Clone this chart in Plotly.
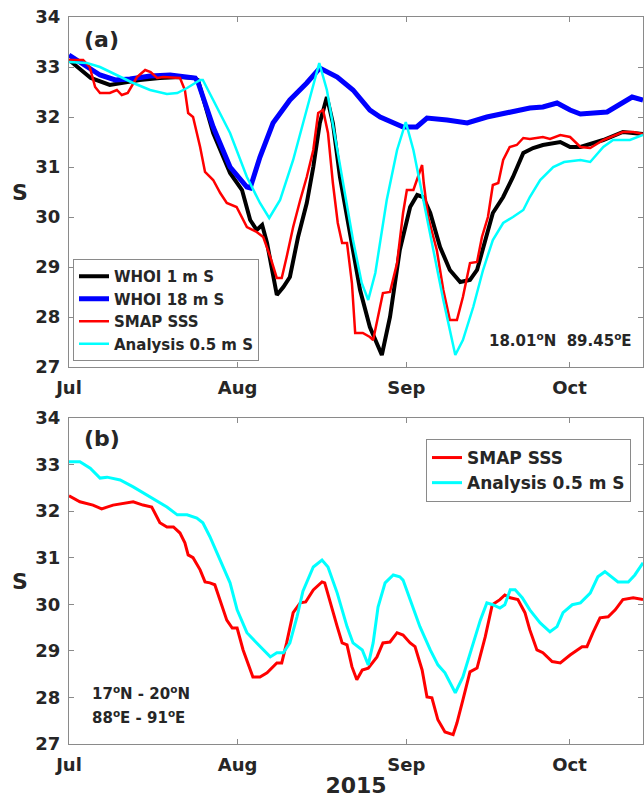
import pandas as pd
import plotly.graph_objects as go

# ---------------- data (days since 2015-07-01) ----------------
whoi1_days = [0, 2, 4, 7.5, 9.4, 13, 16.7, 20.4, 23, 23.7, 26.5, 29.6, 31.8, 33.3, 34.5, 35.5, 36.4, 38.2, 39.4, 40.6,
              42.1, 43.7, 44.9, 46.1, 47.4, 48.5, 49.8, 51.7, 53.5, 55.3, 57.5, 59, 60.8, 62.7, 64, 65.1, 66.4, 68.2,
              70, 71.9, 73.7, 75, 76.1, 77.9, 79.8, 81.6, 83.5, 85.3, 87.1, 90.3, 92.1, 94, 98.2, 101.8, 105.5]
whoi1_vals = [33.14, 32.95, 32.78, 32.64, 32.68, 32.74, 32.78, 32.8, 32.78, 32.74, 31.68, 30.88, 30.54, 29.94, 29.74,
              29.84, 29.48, 28.44, 28.6, 28.8, 29.6, 30.28, 31.0, 31.88, 32.4, 31.88, 30.8, 29.6, 28.54, 27.8, 27.24,
              28.0, 29.34, 30.2, 30.44, 30.4, 30.08, 29.4, 28.94, 28.7, 28.74, 28.94, 29.4, 30.08, 30.4, 30.8, 31.28,
              31.38, 31.44, 31.5, 31.4, 31.4, 31.54, 31.7, 31.66]

whoi18_days = [0, 2, 5.7, 8.5, 11.2, 14.9, 18.6, 23.2, 23.7, 26.5, 29.6, 32.7, 33.3, 35.1, 37.5, 40.6, 43.7, 46.1,
               49.3, 52.2, 55.3, 57.2, 61.4, 63.9, 65.8, 69.5, 73.2, 76.8, 78.6, 81, 84.7, 87.1, 89.7, 92.1, 94,
               98.9, 103.5, 105.5]
whoi18_vals = [33.24, 33.1, 32.84, 32.74, 32.76, 32.82, 32.84, 32.78, 32.7, 31.8, 31.0, 30.6, 30.58, 31.2, 31.88,
               32.34, 32.68, 32.98, 32.8, 32.54, 32.14, 32.0, 31.8, 31.8, 31.98, 31.94, 31.88, 32.0, 32.04, 32.08,
               32.18, 32.2, 32.28, 32.14, 32.06, 32.1, 32.4, 32.34]

smap_a_days = [0, 2.6, 3.8, 4.8, 5.7, 7.5, 8.8, 9.7, 10.8, 12.5, 14, 15, 16.2, 17.3, 20.4, 21.3, 21.9, 22.8, 24.1,
               25, 26.5, 27.8, 29, 30.8, 32.7, 34.5, 35.7, 37, 38.2, 39.1, 40, 41.2, 42.5, 43.7, 44.9, 45.8, 46.7,
               47.6, 48.5, 49.4, 50.2, 51.1, 52, 52.6, 54, 55.3, 55.9, 57.7, 59, 60.3, 61.4, 62.1, 63.3, 64.2, 64.9,
               65.2, 66, 67.6, 68.8, 70, 71.3, 72.4, 73.7, 75, 75.9, 77, 77.9, 78.9, 79.8, 81, 82.3, 83.5, 84.7,
               87.1, 88.4, 90.3, 92.1, 94, 95.8, 98.2, 101.8, 103.7, 105.5]
smap_a_vals = [33.14, 33.14, 33.0, 32.6, 32.48, 32.48, 32.54, 32.44, 32.48, 32.8, 32.94, 32.9, 32.78, 32.8, 32.78,
               32.54, 32.08, 32.0, 31.4, 30.9, 30.74, 30.48, 30.28, 30.2, 29.8, 29.7, 29.6, 29.2, 28.78, 28.78, 29.2,
               29.8, 30.34, 30.8, 31.34, 32.08, 32.14, 31.68, 30.68, 29.88, 29.48, 29.48, 28.68, 27.68, 27.68, 27.6,
               27.54, 28.48, 28.5, 29.08, 30.08, 30.54, 30.54, 30.8, 31.04, 30.68, 30.0, 29.34, 28.54, 27.94, 27.94,
               28.4, 29.08, 29.1, 29.6, 30.0, 30.64, 30.68, 31.14, 31.4, 31.44, 31.58, 31.56, 31.6, 31.56, 31.64,
               31.6, 31.4, 31.38, 31.54, 31.7, 31.7, 31.66]

anal_a_days = [0, 3.3, 5.7, 8.8, 11.8, 14.9, 18, 19.9, 21.7, 24.1, 24.6, 26.5, 29.6, 32.7, 35.1, 36.8, 38.8, 41.2,
               43.7, 46, 47.4, 49.8, 52.2, 53.8, 55, 56.3, 58.4, 60.3, 61.9, 63.3, 65.1, 66.9, 68.8, 71, 72.4, 74.3,
               76.1, 77.9, 79.8, 81.6, 83.5, 84.7, 86.6, 89, 91, 94, 95.8, 98.2, 100, 103.1, 105.5]
anal_a_vals = [33.1, 33.08, 33.0, 32.84, 32.68, 32.54, 32.46, 32.48, 32.58, 32.74, 32.74, 32.34, 31.68, 30.8, 30.28,
               29.98, 30.34, 31.14, 32.14, 33.08, 32.54, 31.0, 29.54, 28.68, 28.34, 28.88, 30.34, 31.34, 31.9, 31.34,
               30.34, 29.34, 28.34, 27.24, 27.54, 28.2, 28.94, 29.54, 29.88, 30.0, 30.14, 30.4, 30.74, 31.0, 31.1,
               31.14, 31.1, 31.4, 31.54, 31.54, 31.64]

smap_b_days = [0, 2, 4.4, 6, 8.1, 11.8, 13.6, 15.2, 16.7, 18, 19.2, 20.4, 21.3, 21.9, 22.8, 24.1, 25, 25.9, 26.8,
               28.1, 29, 30, 30.9, 32, 33.8, 35.1, 36.4, 38.2, 39.1, 40, 41.2, 42.5, 43.5, 44.9, 46.5, 47, 48, 49.3,
               50.2, 51.1, 52, 52.9, 53.9, 55, 56.6, 57.7, 59, 60.3, 61.4, 62.7, 63.6, 64.9, 65.8, 66.7, 67.8, 69.1,
               70.6, 71.3, 72.4, 73.7, 75, 76.5, 77.8, 79.2, 80.1, 81.1, 82.5, 83.8, 84.7, 86, 87.1, 88.8, 90.3,
               92.1, 94.3, 95.2, 96.3, 97.6, 99.1, 100.4, 101.8, 103.7, 105.5]
smap_b_vals = [32.33, 32.2, 32.13, 32.05, 32.13, 32.2, 32.13, 32.09, 31.75, 31.66, 31.66, 31.53, 31.32, 31.06, 31.0,
               30.74, 30.48, 30.46, 30.42, 29.94, 29.66, 29.49, 29.49, 29.02, 28.44, 28.44, 28.53, 28.74, 28.74,
               29.17, 29.82, 30.03, 30.05, 30.31, 30.48, 30.46, 30.03, 29.52, 29.17, 29.13, 28.66, 28.38, 28.59,
               28.63, 28.87, 29.17, 29.19, 29.39, 29.34, 29.17, 29.09, 28.59, 28.01, 27.99, 27.52, 27.26, 27.2,
               27.45, 27.95, 28.55, 28.63, 29.3, 29.99, 30.1, 30.2, 30.14, 30.1, 29.82, 29.45, 29.02, 28.96, 28.77,
               28.74, 28.91, 29.09, 29.09, 29.39, 29.71, 29.73, 29.88, 30.1, 30.14, 30.1]

anal_b_days = [0, 2, 3.9, 5.7, 7, 9.4, 11.8, 14.9, 18, 19.9, 21.7, 23.5, 24.6, 25.9, 27.2, 28.3, 29.6, 30.9, 32.7,
               34.5, 35.7, 37, 38.2, 39.4, 40.6, 41.9, 43, 44.9, 46.5, 47.6, 49.3, 51.1, 52.2, 53.9, 55, 55.9, 56.8,
               58.1, 59.6, 60.8, 61.4, 62.7, 64.5, 66.4, 67.8, 69.1, 71, 72.4, 74.3, 75.6, 76.8, 77.9, 79.2, 80.1,
               81.1, 82, 83.3, 84.7, 86.6, 88.4, 89.7, 90.8, 92.5, 94, 95.8, 97.2, 98.5, 99.8, 100.9, 102.8, 104,
               105.5]
anal_b_vals = [33.06, 33.06, 32.92, 32.71, 32.73, 32.67, 32.52, 32.3, 32.09, 31.92, 31.92, 31.85, 31.75, 31.45, 31.1,
               30.8, 30.46, 29.88, 29.39, 29.17, 29.02, 28.87, 28.96, 28.96, 29.17, 29.73, 30.28, 30.8, 30.95, 30.8,
               30.24, 29.52, 29.17, 29.02, 28.7, 29.17, 29.94, 30.46, 30.63, 30.59, 30.52, 30.09, 29.52, 29.02, 28.7,
               28.53, 28.1, 28.44, 29.17, 29.66, 30.03, 29.99, 29.92, 29.99, 30.31, 30.31, 30.14, 29.88, 29.6, 29.41,
               29.52, 29.82, 29.99, 30.03, 30.24, 30.59, 30.7, 30.57, 30.48, 30.48, 30.63, 30.89]

tick_dates = ["2015-07-01", "2015-08-01", "2015-09-01", "2015-10-01"]
tick_labels = ["Jul", "Aug", "Sep", "Oct"]
y_ticks = [27, 28, 29, 30, 31, 32, 33, 34]

START = pd.Timestamp("2015-07-01")


def to_dates(days):
    return [START + pd.Timedelta(days=d) for d in days]


FONT = "DejaVu Sans"
TXT = "#262626"
AX = "#8a8a8a"

fig = go.Figure()
fig.add_trace(go.Scatter(x=to_dates(whoi1_days), y=whoi1_vals, mode="lines", name="WHOI 1 m S",
                         line=dict(color="black", width=4), xaxis="x", yaxis="y", legend="legend"))
fig.add_trace(go.Scatter(x=to_dates(whoi18_days), y=whoi18_vals, mode="lines", name="WHOI 18 m S",
                         line=dict(color="#0000ff", width=5), xaxis="x", yaxis="y", legend="legend"))
fig.add_trace(go.Scatter(x=to_dates(smap_a_days), y=smap_a_vals, mode="lines", name="SMAP SSS",
                         line=dict(color="#ff0000", width=2.5), xaxis="x", yaxis="y", legend="legend"))
fig.add_trace(go.Scatter(x=to_dates(anal_a_days), y=anal_a_vals, mode="lines", name="Analysis 0.5 m S",
                         line=dict(color="#00ffff", width=2.5), xaxis="x", yaxis="y", legend="legend"))
fig.add_trace(go.Scatter(x=to_dates(smap_b_days), y=smap_b_vals, mode="lines", name="SMAP SSS",
                         line=dict(color="#ff0000", width=3), xaxis="x2", yaxis="y2", legend="legend2"))
fig.add_trace(go.Scatter(x=to_dates(anal_b_days), y=anal_b_vals, mode="lines", name="Analysis 0.5 m S",
                         line=dict(color="#00ffff", width=3), xaxis="x2", yaxis="y2", legend="legend2"))

xrange_ = [START, START + pd.Timedelta(days=105.5)]
tickfont = dict(family=FONT, size=18, color=TXT, weight="bold")

xcommon = dict(range=xrange_, tickvals=tick_dates, ticktext=tick_labels, ticks="inside", ticklen=5,
               tickcolor=AX, showline=True, linecolor=AX, linewidth=1, mirror="ticks", showgrid=False,
               zeroline=False, tickfont=tickfont, ticklabelstandoff=4)
ycommon = dict(range=[27, 34], tickvals=y_ticks, ticks="inside", ticklen=5, tickcolor=AX, showline=True,
               linecolor=AX, linewidth=1, mirror="ticks", showgrid=False, zeroline=False, tickfont=tickfont,
               ticklabelstandoff=4)

H = 727.0
W = 574.0


def px(xp):
    return (xp - 69) / W


def py(yp):
    return (744 - yp) / H


fig.update_layout(
    width=644, height=801,
    margin=dict(l=69, r=1, t=17, b=57),
    paper_bgcolor="white", plot_bgcolor="white",
    xaxis=dict(domain=[0, 1], anchor="y", **xcommon),
    yaxis=dict(domain=[py(367), 1], anchor="x", **ycommon),
    xaxis2=dict(domain=[0, 1], anchor="y2",
                title=dict(text="2015", font=dict(family=FONT, size=22, color=TXT, weight="bold"), standoff=4),
                **xcommon),
    yaxis2=dict(domain=[0, py(418)], anchor="x2", **ycommon),
    legend=dict(x=px(73), y=py(361), xanchor="left", yanchor="bottom",
                bgcolor="white", bordercolor=AX, borderwidth=1,
                font=dict(family=FONT, size=15, color=TXT, weight="bold"), tracegroupgap=0),
    legend2=dict(x=px(426), y=py(439), xanchor="left", yanchor="top",
                 bgcolor="white", bordercolor=AX, borderwidth=1,
                 font=dict(family=FONT, size=17, color=TXT, weight="bold"), tracegroupgap=0),
    showlegend=True,
)

ann_font = dict(family=FONT, size=15, color=TXT, weight="bold")
label_font = dict(family=FONT, size=22, color=TXT, weight="bold")


def ann(text, x, y, font, xanchor="left", yanchor="middle"):
    fig.add_annotation(text=text, x=px(x), y=py(y), xref="paper", yref="paper", xanchor=xanchor,
                       yanchor=yanchor, showarrow=False, font=font)


ann("(a)", 82, 39, label_font)
ann("(b)", 82, 438, label_font)
ann("S", 20, 192, label_font, xanchor="center")
ann("S", 20, 581, label_font, xanchor="center")
ann("18.01<sup>o</sup>N  89.45<sup>o</sup>E", 487, 340, ann_font)
ann("17<sup>o</sup>N - 20<sup>o</sup>N", 90, 693, ann_font)
ann("88<sup>o</sup>E - 91<sup>o</sup>E", 90, 717, ann_font)

fig.write_html("out.html")
